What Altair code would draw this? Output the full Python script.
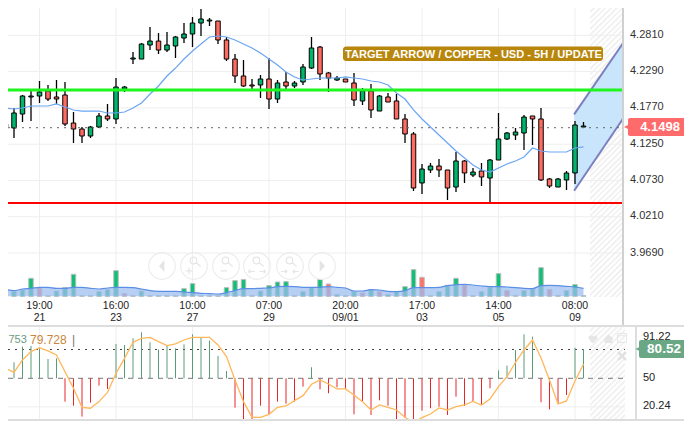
import altair as alt
import pandas as pd

highs = [4.1549,4.1749,4.1936,4.1993,4.2136,4.2079,4.2151,4.2122,4.1692,4.1477,4.1491,4.1678,4.1807,4.2179,4.2065,4.2552,4.2681,4.2910,4.2824,4.2838,4.2781,4.2967,4.3053,4.3168,4.3039,4.2996,4.2767,4.2523,4.2437,4.2165,4.2222,4.2466,4.2151,4.2265,4.2136,4.2380,4.2767,4.2638,4.2265,4.2208,4.2165,4.2251,4.2036,4.2093,4.1936,4.1964,4.1950,4.1663,4.1405,4.0947,4.0961,4.1019,4.0861,4.1119,4.1004,4.0890,4.0961,4.1019,4.1678,4.1405,4.1463,4.1649,4.1635,4.1749,4.0746,4.0746,4.0847,4.1563,4.1549]
lows = [4.1448,4.1319,4.1549,4.1563,4.1821,4.1850,4.1807,4.1491,4.1248,4.1248,4.1319,4.1463,4.1563,4.1520,4.1979,4.2380,4.2451,4.2580,4.2523,4.2552,4.2466,4.2681,4.2623,4.2781,4.2924,4.2666,4.2423,4.2108,4.2050,4.2021,4.1893,4.1735,4.1821,4.2021,4.2036,4.2079,4.2308,4.2151,4.1979,4.2136,4.2122,4.1778,4.1792,4.1606,4.1706,4.1835,4.1592,4.1248,4.0560,4.0517,4.0818,4.0761,4.0431,4.0546,4.0675,4.0761,4.0632,4.0402,4.1004,4.1291,4.1291,4.1147,4.1219,4.0703,4.0603,4.0617,4.0574,4.0660,4.1477]
opens = [4.1520,4.1463,4.1663,4.1907,4.1921,4.1993,4.1907,4.1936,4.1534,4.1448,4.1348,4.1477,4.1635,4.1592,4.2021,4.2451,4.2451,4.2652,4.2709,4.2580,4.2638,4.2752,4.2810,4.2967,4.2996,4.2996,4.2724,4.2451,4.2208,4.2079,4.2079,4.2165,4.1878,4.2122,4.2065,4.2122,4.2322,4.2623,4.2251,4.2151,4.2165,4.2108,4.1850,4.1993,4.1706,4.1907,4.1850,4.1592,4.1377,4.0675,4.0861,4.0918,4.0861,4.0617,4.0990,4.0789,4.0847,4.0746,4.1004,4.1305,4.1362,4.1391,4.1635,4.1592,4.0732,4.0617,4.0718,4.0818,4.1477]
closes = [4.1477,4.1678,4.1921,4.1921,4.1979,4.1878,4.1878,4.1520,4.1448,4.1348,4.1477,4.1635,4.1592,4.2050,4.2050,4.2466,4.2666,4.2709,4.2580,4.2652,4.2767,4.2810,4.2967,4.3025,4.3010,4.2724,4.2451,4.2208,4.2065,4.2065,4.2165,4.1878,4.2108,4.2065,4.2108,4.2337,4.2609,4.2237,4.2179,4.2179,4.2122,4.1864,4.1993,4.1721,4.1921,4.1835,4.1592,4.1377,4.0603,4.0875,4.0918,4.0861,4.0603,4.0990,4.0818,4.0832,4.0761,4.1004,4.1305,4.1391,4.1405,4.1620,4.1592,4.0718,4.0632,4.0732,4.0818,4.1506,4.1491]
ma_values = [4.1749,4.1735,4.1749,4.1778,4.1778,4.1778,4.1807,4.1764,4.1721,4.1706,4.1706,4.1706,4.1678,4.1678,4.1692,4.1749,4.1821,4.1950,4.2065,4.2208,4.2322,4.2451,4.2566,4.2666,4.2767,4.2781,4.2767,4.2724,4.2666,4.2609,4.2537,4.2451,4.2366,4.2265,4.2194,4.2151,4.2165,4.2179,4.2179,4.2179,4.2194,4.2179,4.2165,4.2136,4.2122,4.2079,4.1964,4.1878,4.1721,4.1592,4.1477,4.1362,4.1248,4.1133,4.1033,4.0933,4.0861,4.0832,4.0890,4.0947,4.0990,4.1047,4.1176,4.1133,4.1119,4.1119,4.1119,4.1176,4.1191]
volumes = [0.7,4.7,6.3,18,8.7,0.7,5.3,8.7,22,0.7,0.7,4.7,7,25.7,2.7,0.7,5.3,0.7,0.7,0.7,0.7,7.7,12.7,0.7,0.7,0.7,8.7,15.7,16.7,0.7,5.3,10.7,14.3,14.7,0.7,4.7,8.7,16.7,12.3,2,0.7,4.7,3.3,6.7,4.7,2,4.7,9.7,26.7,19,0.7,4.7,11,18,11.3,0.7,4.7,9.3,22.7,5.7,1,5.7,7.3,28.7,6.7,1,5.7,11.7,0.7]
volume_down = [4,14,38,42,44,49,54,59,64]
volume_ma = [7,5.7,7.3,8,9,9,8,8,9,9,8,7.3,8.3,9,9,8.7,7.3,5.7,5,5,5,4.3,3.7,3,2.7,2.3,3.7,5.7,7.7,7.7,8,8.3,9.7,10,9.7,9,9,9,9.7,9,8.3,5.3,5.3,6.7,6.3,5,4.7,5.7,8.7,8.7,8.7,9,10.7,11.7,12,11.3,10.3,9.7,9.7,9.3,8.7,8,7.7,10.7,11,10.7,10,9.3,8]
osc_hist = [50.7,66.7,83.0,83.7,81.2,70.1,70.8,25.7,21.5,10.1,24.7,42.4,38.9,85.8,84.7,91.7,97.9,87.5,79.9,84.7,81.2,85.4,95.8,92.4,89.2,73.3,57.6,19.4,2.1,5.9,21.5,12.5,25.7,23.6,25.7,41.3,61.5,38.5,34.4,40.6,38.9,12.5,26.4,11.8,27.1,21.5,1.4,9.0,4.9,16.3,18.8,20.5,11.8,30.9,21.2,25.7,22.2,39.6,58.3,63.2,79.5,95.8,93.4,25.0,17.7,24.0,32.6,81.9,80.5]
osc_line = [60.4,56.2,69.1,77.8,81.9,78.5,74.3,56.9,39.6,19.8,18.8,25.7,35.4,55.2,70.8,87.5,91.7,92.7,88.2,84.0,85.8,89.9,92.7,92.7,92.7,84.7,72.6,48.3,25.7,9.4,9.4,12.5,19.8,21.2,26.7,31.9,43.8,48.3,44.1,38.9,38.9,32.6,25.7,17.0,22.2,19.8,17.0,9.4,3.8,9.0,12.8,19.1,17.0,20.5,22.2,26.0,22.2,28.5,41.3,51.7,66.7,79.5,89.9,71.5,48.3,23.3,26.4,47.2,64.6]

price_ticks = [3.9690,4.0210,4.0730,4.1250,4.1770,4.2290,4.2810]
osc_ticks = [91.22,50,20.24]
time_idx = [4,13,22,31,40,49,58,67]
time_top = ["19:00","16:00","10:00","07:00","20:00","17:00","14:00","08:00"]
time_bot = ["21","23","27","29","09/01","03","05","09"]
resistance = 4.2007
support = 4.0388
last_price = 4.1486
last_label = "4.1498"
arrow_i = [66.9,72.68]
arrow_top = [4.1658,4.2685]
arrow_bot = [4.0564,4.1602]
banner = "TARGET ARROW / COPPER - USD - 5H / UPDATE"

CAL = 0.0019
FONT = "Liberation Sans"
GREEN, RED = "#00b56c", "#ff6b60"
W, H = 676, 413
BOTTOM = H + 8
n = len(closes)
df = pd.DataFrame({
    "i": range(n),
    "high": [v + CAL for v in highs], "low": [v + CAL for v in lows],
    "open": [v + CAL for v in opens], "close": [v + CAL for v in closes],
    "ma": [v + CAL for v in ma_values],
    "vol": volumes, "volma": volume_ma,
    "hist": osc_hist, "osc": osc_line, "base": [50] * n,
})
df["dir"] = ["up" if c >= o else "down" for o, c in zip(opens, closes)]
df["voldir"] = ["down" if k in volume_down else "up" for k in range(n)]
df["histdir"] = ["up" if v >= 50 else "down" for v in osc_hist]

def X(v): return v - 8
def Y(v): return v - 8

d0 = (8 - 5.5) / 8.5
xs = alt.Scale(domain=[d0, d0 + W / 8.5], range=[0, W], nice=False, zero=False, padding=0)
xq = alt.X("i:Q", scale=xs, axis=None)
ps = alt.Scale(domain=[4.3316 - 0.001433 * 325, 4.3316], range=[Y(325), Y(0)], nice=False, zero=False)
vs = alt.Scale(domain=[0, 100], range=[Y(296.3), Y(196.3)], nice=False, zero=False)
os_ = alt.Scale(domain=[0, 100], range=[Y(426.3), Y(330.3)], nice=False, zero=False)

def py(f): return alt.Y(f, scale=ps, axis=None)
def vy(f): return alt.Y(f, scale=vs, axis=None)
def oy(f): return alt.Y(f, scale=os_, axis=None)
one = pd.DataFrame({"a": [0]})

def hatch(w, h):
    k = (w + h) / (w * w + h * h)
    total = (w + h) / 2 ** 0.5
    period = 4.0
    stops, t = [], 0.0
    while t < total:
        stops += [alt.GradientStop(color="#ffffff", offset=min(t / total, 1)),
                  alt.GradientStop(color="#ffffff", offset=min((t + period * 0.45) / total, 1)),
                  alt.GradientStop(color="#f2f2f2", offset=min((t + period * 0.55) / total, 1)),
                  alt.GradientStop(color="#f2f2f2", offset=min((t + period) / total, 1))]
        t += period
    return alt.Gradient(gradient="linear", stops=stops, x1=0, y1=0, x2=k * w, y2=k * h)

def box(x1, x2, y1, y2, **kw):
    return alt.Chart(one).mark_rect(**kw).encode(x=alt.value(X(x1)), x2=alt.value(X(x2)), y=alt.value(Y(y1)), y2=alt.value(Y(y2)))

def label(text, x, y, **kw):
    base = dict(font=FONT, fontSize=11, color="#222222", baseline="middle", align="left")
    base.update(kw)
    return alt.Chart(pd.DataFrame({"t": [text]})).mark_text(**base).encode(x=alt.value(X(x)), y=alt.value(Y(y)), text="t:N")

def icon(path, x, y, size, fill=None, stroke="#e6e6e6", sw=1.2):
    kw = dict(shape=path, size=size, opacity=1)
    if fill:
        kw.update(filled=True, color=fill, strokeWidth=0)
    else:
        kw.update(filled=False, color=stroke, strokeWidth=sw)
    return alt.Chart(one).mark_point(**kw).encode(x=alt.value(X(x)), y=alt.value(Y(y)))

layers = []
layers.append(box(590, 622, 8, 297, color=hatch(32, 289)))
layers.append(box(590, 625, 327, BOTTOM, color=hatch(35, BOTTOM - 327)))

# grid
grid_df = pd.DataFrame({"p": price_ticks})
layers.append(alt.Chart(grid_df).mark_rule(color="#eeeeee", strokeWidth=1).encode(y=py("p:Q"), x=alt.value(0), x2=alt.value(X(622))))
vg = pd.DataFrame({"i": time_idx, "top": time_top, "bot": time_bot})
layers.append(alt.Chart(vg).mark_rule(color="#eeeeee", strokeWidth=1).encode(x=xq, y=alt.value(0), y2=alt.value(Y(297))))
layers.append(alt.Chart(vg).mark_rule(color="#eeeeee", strokeWidth=1).encode(x=xq, y=alt.value(Y(327)), y2=alt.value(Y(426))))
layers.append(alt.Chart(pd.DataFrame({"v": [20.24]})).mark_rule(color="#eeeeee", strokeWidth=1).encode(y=oy("v:Q"), x=alt.value(0), x2=alt.value(X(625))))

# arrow
arrow_df = pd.DataFrame({"i": arrow_i, "t": [v + CAL for v in arrow_top], "b": [v + CAL for v in arrow_bot]})
layers.append(alt.Chart(arrow_df).mark_area(color="#c9e5fb", opacity=1).encode(x=xq, y=py("t:Q"), y2="b:Q"))

# volume
layers.append(alt.Chart(df).mark_bar(size=4.5, stroke="#bdbdbd", strokeWidth=1).encode(
    x=xq, y=vy("vol:Q"), y2=alt.value(Y(296.3)),
    color=alt.Color("voldir:N", scale=alt.Scale(domain=["up", "down"], range=["#0fc077", "#ff7065"]), legend=None)))
layers.append(alt.Chart(df).mark_area(color="#9dbcf0", opacity=0.72, interpolate="monotone",
                                      line=alt.LineConfig(color="#5b8fe6", strokeWidth=1.2)).encode(
    x=xq, y=vy("volma:Q"), y2=alt.value(Y(296.3))))

# navigation circles
nav_x = [162, 194, 226, 257, 290, 322]
for nx in nav_x:
    layers.append(alt.Chart(one).mark_point(shape="circle", size=707, filled=False, color="#ececec", strokeWidth=1.2, opacity=1).encode(x=alt.value(X(nx)), y=alt.value(Y(266))))
layers.append(icon("M0.4,-1 L-0.5,0 L0.4,1 Z", 162, 266, 144, fill="#e4e4e4"))
layers.append(icon("M-0.4,-1 L0.5,0 L-0.4,1 Z", 322, 266, 144, fill="#e4e4e4"))
glass = "M-0.35,-0.5 a0.3,0.3 0 1,0 0.6,0 a0.3,0.3 0 1,0 -0.6,0 M0.2,-0.3 L0.6,0.05 "
layers.append(icon(glass + "M-0.75,0.45 L-0.15,0.45 M-0.45,0.15 L-0.45,0.75", 194, 266, 484))
layers.append(icon(glass + "M-0.5,0.45 L0.1,0.45", 226, 266, 484))
layers.append(icon(glass + "M-0.8,0.5 L-0.2,0.5 M-0.8,0.5 L-0.6,0.35 M-0.8,0.5 L-0.6,0.65 M0.2,0.5 L0.8,0.5 M0.8,0.5 L0.6,0.35 M0.8,0.5 L0.6,0.65", 257, 266, 484))
layers.append(icon(glass + "M-0.8,0.5 L-0.25,0.5 M-0.25,0.5 L-0.45,0.35 M-0.25,0.5 L-0.45,0.65 M0.25,0.5 L0.8,0.5 M0.25,0.5 L0.45,0.35 M0.25,0.5 L0.45,0.65", 290, 266, 484))

# candles
layers.append(alt.Chart(df).mark_rule(color="#000000", strokeWidth=1.3).encode(x=xq, y=py("high:Q"), y2="low:Q"))
layers.append(alt.Chart(df).mark_bar(size=4.5, stroke="#000000", strokeWidth=1).encode(
    x=xq, y=py("open:Q"), y2="close:Q",
    color=alt.Color("dir:N", scale=alt.Scale(domain=["up", "down"], range=[GREEN, RED]), legend=None)))
layers.append(alt.Chart(df).mark_line(color="#6aa5f5", strokeWidth=1.2).encode(x=xq, y=py("ma:Q")))

# arrow edges
for col in ["t", "b"]:
    layers.append(alt.Chart(arrow_df).mark_line(color="#7c7fc0", strokeWidth=2).encode(x=xq, y=py(f"{col}:Q")))

# levels
layers.append(alt.Chart(pd.DataFrame({"p": [last_price]})).mark_rule(color="#666666", strokeWidth=1, strokeDash=[2, 5]).encode(y=py("p:Q"), x=alt.value(0), x2=alt.value(X(622))))
layers.append(alt.Chart(pd.DataFrame({"p": [resistance + CAL]})).mark_rule(color="#1ff51f", strokeWidth=3).encode(y=py("p:Q"), x=alt.value(0), x2=alt.value(X(622))))
layers.append(alt.Chart(pd.DataFrame({"p": [support + CAL]})).mark_rule(color="#ff0000", strokeWidth=2).encode(y=py("p:Q"), x=alt.value(0), x2=alt.value(X(622))))

# banner
layers.append(box(343, 603, 46.5, 61, color="#b8860b", cornerRadius=3))
layers.append(label(banner, 345, 54.5, fontSize=11.05, fontWeight="bold", color="#ffffff"))

# oscillator
layers.append(alt.Chart(pd.DataFrame({"v": [80]})).mark_rule(color="#444444", strokeWidth=1, strokeDash=[2, 5]).encode(y=oy("v:Q"), x=alt.value(0), x2=alt.value(X(625))))
layers.append(alt.Chart(pd.DataFrame({"v": [50]})).mark_rule(color="#777777", strokeWidth=1, strokeDash=[5, 5]).encode(y=oy("v:Q"), x=alt.value(0), x2=alt.value(X(625))))
layers.append(alt.Chart(df).mark_rule(strokeWidth=1).encode(
    x=xq, y=oy("base:Q"), y2="hist:Q",
    color=alt.Color("histdir:N", scale=alt.Scale(domain=["up", "down"], range=["#5a9c78", "#e8262a"]), legend=None)))
layers.append(alt.Chart(df).mark_line(color="#ffb75a", strokeWidth=1.3).encode(x=xq, y=oy("osc:Q")))

# panel icons
layers.append(icon("M0,0.9 L-0.9,-0.1 A0.5,0.5 0 0,1 0,-0.5 A0.5,0.5 0 0,1 0.9,-0.1 Z", 593, 339, 100, fill="#e6e6e6"))
layers.append(icon("M0,-0.9 L1,0 L0.8,0 L0.8,0.8 L-0.8,0.8 L-0.8,0 L-1,0 Z", 608.5, 339, 100, fill="#e6e6e6"))
layers.append(icon("M-1,-1 L1,-1 L1,1 L-1,1 Z M-1,-0.5 L1,-0.5", 622, 338, 81, stroke="#e6e6e6", sw=1))
layers.append(icon("M-1,-1 L1,1 M1,-1 L-1,1", 622, 356, 64, stroke="#e2e2e2", sw=2.5))

# separators
layers.append(box(622, 624, 8, 325, color="#d0d0d0"))
layers.append(box(0, 692, 325, 327, color="#dddddd"))
layers.append(box(635, 637, 327, 429, color="#dddddd"))
layers.append(box(0, 692, BOTTOM - 2, BOTTOM, color="#dddddd"))

# axis texts
tick_df = pd.DataFrame({"p": price_ticks, "t": [f"{v:.4f}" for v in price_ticks]})
layers.append(alt.Chart(tick_df).mark_text(font=FONT, fontSize=11, color="#333333", align="left", baseline="middle", dy=-0.5).encode(
    y=py("p:Q"), x=alt.value(X(630)), text="t:N"))
layers.append(alt.Chart(vg).mark_text(font=FONT, fontSize=10.5, color="#222222", align="center", baseline="middle").encode(x=xq, y=alt.value(Y(306)), text="top:N"))
layers.append(alt.Chart(vg).mark_text(font=FONT, fontSize=10.5, color="#222222", align="center", baseline="middle").encode(x=xq, y=alt.value(Y(317.5)), text="bot:N"))
for txt, yy in zip(["91.22", "50", "20.24"], [337, 378, 406]):
    layers.append(label(txt, 643, yy))

# legend of oscillator
layers.append(label("753", 8.5, 340, fontSize=11, color="#6a9a80"))
layers.append(label("79.728", 30, 340, fontSize=12, color="#c8873a"))
layers.append(label("|", 72, 340, fontSize=12, color="#777777"))

# price tags
layers.append(icon("M1,-1 L-1,0 L1,1 Z", 627, 127, 36, fill="#ff6b6b"))
layers.append(box(628, 692, 118, 136, color="#ff6b6b", cornerRadius=2))
layers.append(label(last_label, 660, 127, align="center", fontSize=13, fontWeight="bold", color="#ffffff"))
layers.append(icon("M1,-1 L-1,0 L1,1 Z", 638, 349, 25, fill="#6aa885"))
layers.append(box(639, 692, 340, 358, color="#6aa885", cornerRadius=2))
layers.append(label("80.52", 664, 349, align="center", fontSize=13.5, fontWeight="bold", color="#ffffff"))

chart = alt.layer(*layers).resolve_scale(y="independent", color="independent").properties(
    width=W, height=H, padding=0, autosize=alt.AutoSizeParams(type="none")
).configure_view(strokeWidth=0)

chart.save("out.html", embed_options={"renderer": "svg", "actions": False})
